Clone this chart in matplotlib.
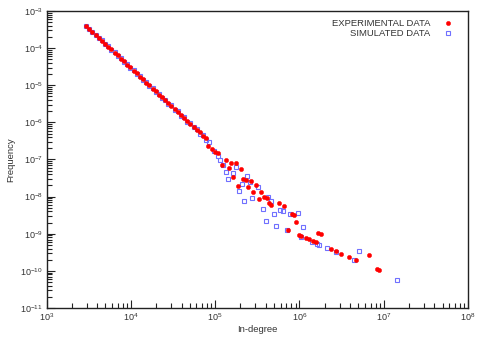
import matplotlib
matplotlib.use("Agg")
import matplotlib.pyplot as plt
from matplotlib.ticker import FixedLocator, NullFormatter, LogFormatterSciNotation

plt.rcParams['font.family'] = ['Liberation Sans', 'DejaVu Sans']
plt.rcParams['mathtext.fontset'] = 'custom'
plt.rcParams['mathtext.rm'] = 'Liberation Sans'
plt.rcParams['mathtext.it'] = 'Liberation Sans'
plt.rcParams['mathtext.default'] = 'regular'

# ---- data ----
exp_indegree = [2950, 3220, 3510, 3820, 4170, 4550, 4960, 5400, 5890, 6420, 7000, 7630,
                8320, 9070, 9890, 1.078e4, 1.175e4, 1.281e4, 1.396e4, 1.522e4, 1.66e4,
                1.809e4, 1.972e4, 2.15e4, 2.344e4, 2.556e4, 2.786e4, 3.038e4, 3.311e4,
                3.61e4, 3.936e4, 4.291e4, 4.677e4, 5.099e4, 5.559e4, 6.061e4, 6.607e4,
                7.203e4, 7.852e4,
                8.30e4, 9.12e4, 9.97e4, 1.09e5, 1.20e5, 1.35e5, 1.55e5, 1.77e5, 1.46e5,
                1.64e5, 2.03e5, 1.88e5, 2.16e5, 2.33e5, 2.48e5, 2.67e5, 2.84e5, 3.06e5,
                3.51e5, 3.29e5, 3.80e5, 4.09e5, 4.32e5, 4.60e5, 5.73e5, 6.51e5, 8.11e5,
                8.71e5, 9.19e5, 7.38e5, 9.82e5, 1.04e6, 1.20e6, 1.30e6, 1.46e6, 1.57e6,
                1.68e6, 1.80e6, 2.37e6, 2.72e6, 3.14e6, 3.87e6, 4.69e6, 6.70e6, 8.26e6,
                8.79e6]
exp_frequency = [3.95e-4, 3.25e-4, 2.78e-4, 2.24e-4, 1.92e-4, 1.55e-4, 1.32e-4, 1.07e-4,
                 9.2e-5, 7.4e-5, 6.35e-5, 5.15e-5, 4.40e-5, 3.55e-5, 3.05e-5, 2.46e-5,
                 2.12e-5, 1.70e-5, 1.47e-5, 1.18e-5, 1.01e-5, 8.1e-6, 7.0e-6, 5.6e-6,
                 4.85e-6, 3.9e-6, 3.36e-6, 2.68e-6, 2.33e-6, 1.85e-6, 1.62e-6, 1.28e-6,
                 1.12e-6, 8.8e-7, 7.7e-7, 6.1e-7, 5.35e-7, 4.2e-7, 3.7e-7,
                 2.30e-7, 1.87e-7, 1.55e-7, 1.46e-7, 7.06e-8, 9.64e-8, 7.85e-8, 8.15e-8,
                 5.75e-8, 3.42e-8, 5.41e-8, 1.92e-8, 2.96e-8, 2.79e-8, 1.84e-8, 2.67e-8,
                 1.30e-8, 2.04e-8, 1.30e-8, 8.41e-9, 9.89e-9, 8.93e-9, 6.56e-9, 5.90e-9,
                 6.56e-9, 5.65e-9, 3.37e-9, 3.17e-9, 2.02e-9, 1.25e-9, 9.16e-10, 8.61e-10,
                 7.74e-10, 7.14e-10, 6.32e-10, 5.82e-10, 1.06e-9, 9.93e-10, 3.85e-10,
                 3.33e-10, 2.87e-10, 2.34e-10, 1.94e-10, 2.70e-10, 1.09e-10, 1.03e-10]

sim_indegree = [2950, 3220, 3510, 3820, 4170, 4550, 4960, 5400, 5890, 6420, 7000, 7630,
                8320, 9070, 9890, 1.078e4, 1.175e4, 1.281e4, 1.396e4, 1.522e4, 1.66e4,
                1.809e4, 1.972e4, 2.15e4, 2.344e4, 2.556e4, 2.786e4, 3.038e4, 3.311e4,
                3.61e4, 3.936e4, 4.291e4, 4.677e4, 5.099e4, 5.559e4, 6.061e4, 6.607e4,
                7.203e4, 7.852e4,
                8.53e4, 9.70e4, 1.09e5, 1.14e5, 1.23e5, 1.35e5, 1.44e5, 1.62e5, 1.77e5,
                2.37e5, 2.07e5, 1.92e5, 2.22e5, 2.76e5, 2.59e5, 3.25e5, 4.28e5, 4.60e5,
                3.70e5, 3.98e5, 4.96e5, 5.89e5, 6.39e5, 7.73e5, 9.62e5, 5.27e5, 7.18e5,
                1.10e6, 1.03e6, 1.40e6, 1.60e6, 1.71e6, 2.14e6, 2.70e6, 5.14e6, 4.48e6,
                1.44e7]
sim_frequency = [3.85e-4, 3.35e-4, 2.65e-4, 2.32e-4, 1.84e-4, 1.62e-4, 1.27e-4, 1.12e-4,
                 8.8e-5, 7.7e-5, 6.1e-5, 5.35e-5, 4.2e-5, 3.7e-5, 2.92e-5, 2.56e-5,
                 2.02e-5, 1.78e-5, 1.40e-5, 1.23e-5, 9.7e-6, 8.5e-6, 6.7e-6, 5.9e-6,
                 4.6e-6, 4.1e-6, 3.2e-6, 2.85e-6, 2.2e-6, 1.97e-6, 1.52e-6, 1.36e-6,
                 1.05e-6, 9.4e-7, 7.3e-7, 6.5e-7, 5.0e-7, 4.55e-7, 3.45e-7,
                 3.00e-7, 1.72e-7, 1.26e-7, 9.64e-8, 7.06e-8, 4.49e-8, 3.02e-8, 4.22e-8,
                 6.12e-8, 3.64e-8, 2.13e-8, 1.38e-8, 7.71e-9, 9.29e-9, 2.51e-8, 1.84e-8,
                 9.89e-9, 7.57e-9, 4.60e-9, 2.15e-9, 3.44e-9, 4.32e-9, 4.06e-9, 3.37e-9,
                 3.59e-9, 1.60e-9, 1.23e-9, 1.53e-9, 8.24e-10, 6.05e-10, 5.15e-10,
                 4.84e-10, 4.02e-10, 3.13e-10, 3.33e-10, 1.91e-10, 5.86e-11]

x_decades = [3, 4, 5, 6, 7, 8]
y_decades = [-11, -10, -9, -8, -7, -6, -5, -4, -3]
x_label = "In-degree"
y_label = "Frequency"
series_labels = ["EXPERIMENTAL DATA", "SIMULATED DATA"]

# ---- figure ----
fig = plt.figure(figsize=(4.85, 3.39), dpi=100)
ax = fig.add_axes([0.0959, 0.0914, 0.8691, 0.8762])

ax.plot(exp_indegree, exp_frequency, linestyle='none', marker='o', markersize=3.1,
        markerfacecolor='#ff0000', markeredgecolor='#ff0000', markeredgewidth=0.3,
        label=series_labels[0], zorder=3)
ax.plot(sim_indegree, sim_frequency, linestyle='none', marker='s', markersize=3.5,
        markerfacecolor='none', markeredgecolor='#7070ff', markeredgewidth=0.8,
        label=series_labels[1], zorder=2)

ax.set_xscale('log')
ax.set_yscale('log')
ax.set_xlim(10.0 ** x_decades[0], 10.0 ** x_decades[-1])
ax.set_ylim(10.0 ** y_decades[0], 10.0 ** y_decades[-1])

x_major = [10.0 ** d for d in x_decades]
y_major = [10.0 ** d for d in y_decades]
x_minor = [m * 10.0 ** d for d in x_decades[:-1] for m in range(2, 10)]
y_minor = [m * 10.0 ** d for d in y_decades[:-1] for m in range(2, 10)]
ax.xaxis.set_major_locator(FixedLocator(x_major))
ax.yaxis.set_major_locator(FixedLocator(y_major))
ax.xaxis.set_minor_locator(FixedLocator(x_minor))
ax.yaxis.set_minor_locator(FixedLocator(y_minor))
ax.xaxis.set_major_formatter(LogFormatterSciNotation())
ax.yaxis.set_major_formatter(LogFormatterSciNotation())
ax.xaxis.set_minor_formatter(NullFormatter())
ax.yaxis.set_minor_formatter(NullFormatter())

ax.tick_params(which='both', direction='in', top=False, right=False,
               labelsize=6.5, width=0.8, color='#222222')
ax.tick_params(which='major', length=6, pad=2.5)
ax.tick_params(which='minor', length=3.5)
for s in ax.spines.values():
    s.set_linewidth(1.0)
    s.set_color('#222222')

ax.set_xlabel(x_label, fontsize=6.8, labelpad=1, color='#333333')
ax.set_ylabel(y_label, fontsize=6.8, labelpad=4, color='#333333')
for lbl in ax.get_xticklabels() + ax.get_yticklabels():
    lbl.set_color('#333333')

leg = ax.legend(loc='upper right', frameon=False, markerfirst=False, fontsize=6.8,
                numpoints=1, handlelength=1.2, handletextpad=1.2, labelspacing=0.1,
                borderaxespad=0.5, bbox_to_anchor=(0.985, 1.0))
for t in leg.get_texts():
    t.set_color('#333333')

fig.savefig("out.png", dpi=100)
